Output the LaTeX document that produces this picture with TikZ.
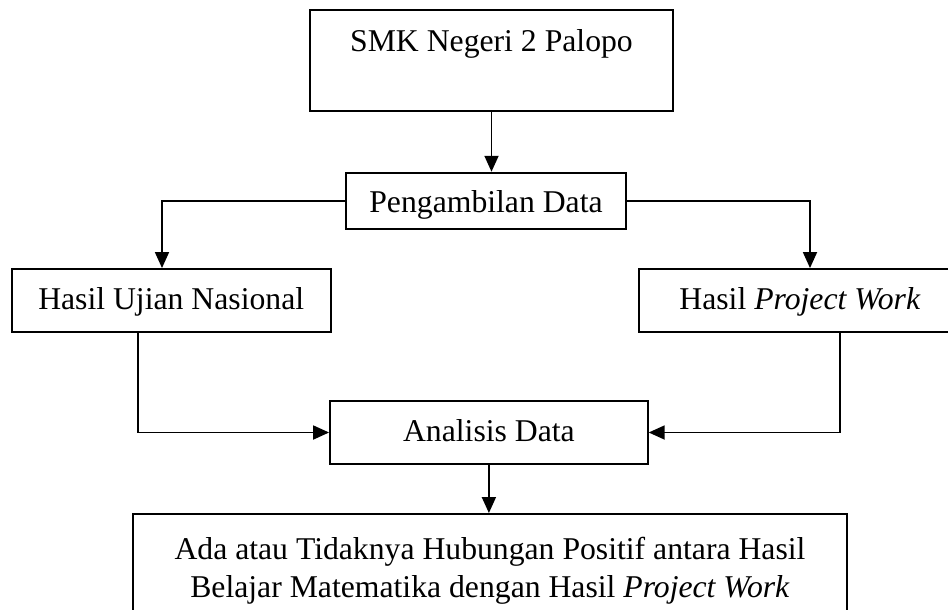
\documentclass[tikz,border=0pt]{standalone}
\usepackage{fontspec}
\setmainfont{Liberation Serif}
\usetikzlibrary{arrows.meta}
\begin{document}
\begin{tikzpicture}[x=1pt,y=-1pt,
  box/.style={draw,line width=1.9pt,rectangle,inner sep=0pt,align=center,
    font=\fontsize{31.7}{38}\selectfont,text height=21pt,text depth=4pt},
  conn/.style={line width=1.8pt},
  arr/.style={conn,-{Triangle[length=16pt,width=14pt]}}]
\useasboundingbox (0,0) rectangle (948,610);
\clip (0,0) rectangle (948,610);
\node[box,minimum width=363pt,minimum height=100.7pt,text height=22pt,text depth=38.6pt] (smk) at (491.5,60.3) {SMK Negeri 2 Palopo};
\node[box,minimum width=280.3pt,minimum height=56pt,text height=24pt,text depth=0pt] (pd) at (486,200.7) {Pengambilan Data};
\node[box,minimum width=319pt,minimum height=63pt] (hun) at (171.2,300.5) {Hasil Ujian Nasional};
\node[box,minimum width=322pt,minimum height=63pt] (hpw) at (800,300.5) {Hasil \textit{Project Work}};
\node[box,minimum width=317.7pt,minimum height=63pt] (an) at (488.9,432.5) {Analisis Data};
\node[box,minimum width=714pt,minimum height=113pt,text height=,text depth=] (res) at (490,570.5) {Ada atau Tidaknya Hubungan Positif antara Hasil\\Belajar Matematika dengan Hasil \textit{Project Work}};
\coordinate (c1) at (162,0);
\coordinate (c2) at (810,0);
\coordinate (c3) at (137.7,0);
\coordinate (c4) at (840,0);
\draw[arr] (smk.south) -- (smk.south |- pd.north);
\draw[arr] (pd.west) -| (c1 |- hun.north);
\draw[arr] (pd.east) -| (c2 |- hpw.north);
\draw[arr] (c3 |- hun.south) |- (an.west);
\draw[arr] (c4 |- hpw.south) |- (an.east);
\draw[arr] (an.south) -- (an.south |- res.north);
\end{tikzpicture}
\end{document}
